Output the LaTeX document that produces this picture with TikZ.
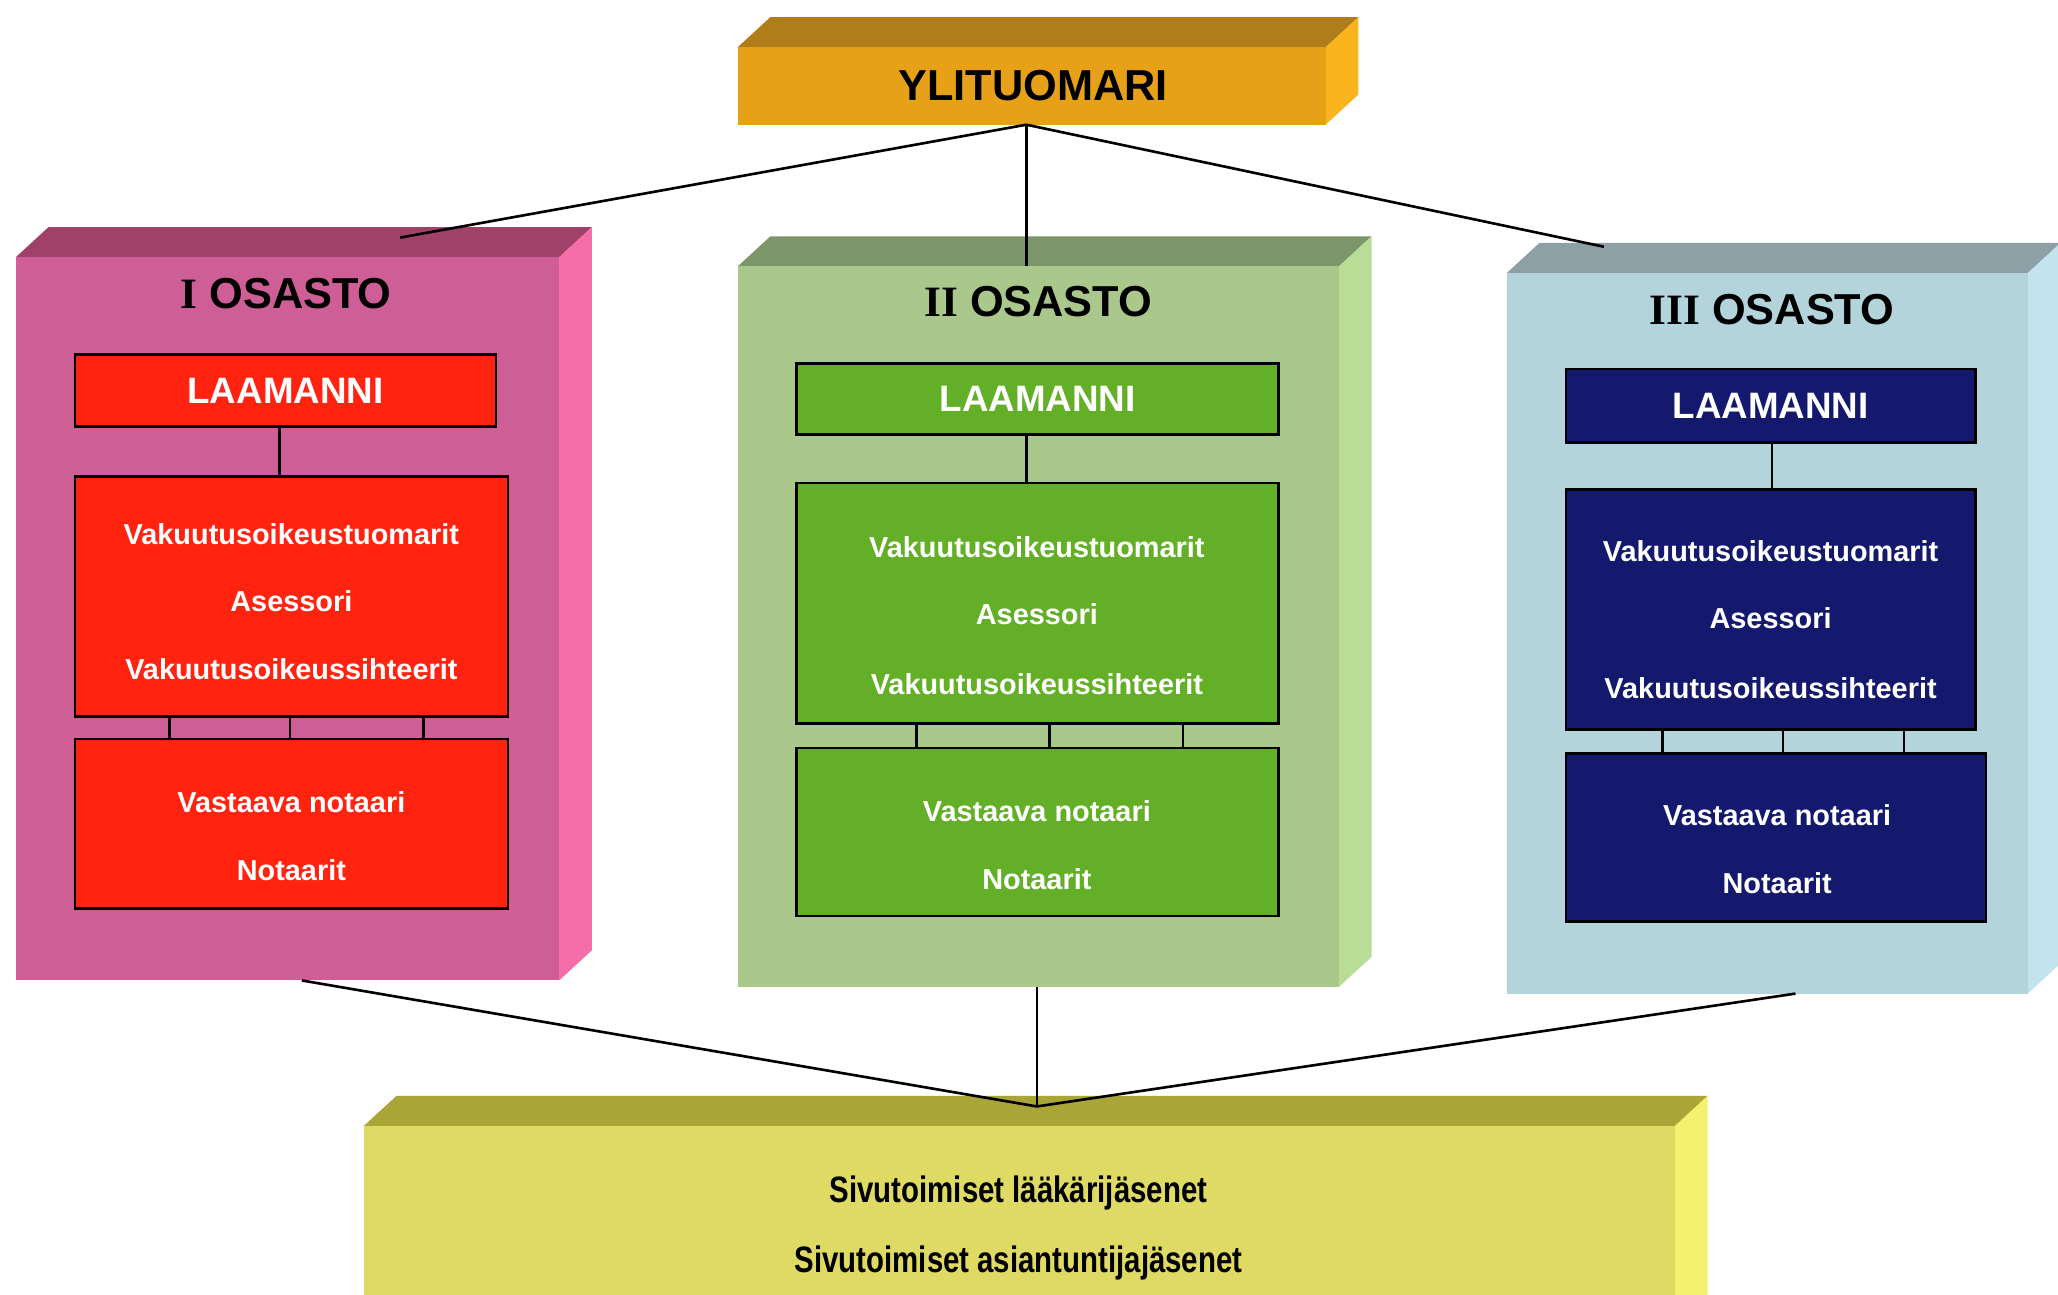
\documentclass[tikz,border=0pt]{standalone}
\usepackage{fontspec}
\setmainfont{Liberation Sans}
\newfontfamily\romanfont{Liberation Serif}
\newfontfamily\narrowfont{Liberation Sans}[FakeStretch=0.8]
\usetikzlibrary{fit,calc}
\definecolor{yFront}{HTML}{E6A118}
\definecolor{yTop}{HTML}{AF7D19}
\definecolor{ySide}{HTML}{FAB41E}
\definecolor{pFront}{HTML}{CD5F96}
\definecolor{pTop}{HTML}{A04169}
\definecolor{pSide}{HTML}{F56EAA}
\definecolor{gFront}{HTML}{AAC88C}
\definecolor{gTop}{HTML}{7D9669}
\definecolor{gSide}{HTML}{B9DC96}
\definecolor{bFront}{HTML}{B4D4DC}
\definecolor{bTop}{HTML}{8CA0A5}
\definecolor{bSide}{HTML}{C3E4EE}
\definecolor{kFront}{HTML}{DEDA64}
\definecolor{kTop}{HTML}{AAA537}
\definecolor{kSide}{HTML}{F5F06E}
\definecolor{redIn}{HTML}{FF2310}
\definecolor{greenIn}{HTML}{64AF28}
\definecolor{navyIn}{HTML}{14196E}
\newcommand\slabblock[8]{%
  \fill[#7] (#2,#3) -- ++(25,-23) -- (#4+25,#3-23) -- (#4,#3) -- cycle;
  \fill[#8] (#4,#3) -- (#4+25,#3-23) -- (#4+25,#5-23) -- (#4,#5) -- cycle;
  \node[fit={(#2,#3)(#4,#5)}, inner sep=0pt, fill=#6] (#1) {};
}
\begin{document}
\begin{tikzpicture}[x=0.5pt,y=-0.5pt,
  inbox/.style={draw=black, line width=1pt, inner sep=0pt},
  intext/.style={text=white, font=\bfseries\fontsize{11}{13}\selectfont},
  lamtext/.style={text=white, font=\bfseries\fontsize{14}{16}\selectfont},
  title/.style={text=black, font=\bfseries\fontsize{16.5}{19}\selectfont},
  bottext/.style={text=black, font=\narrowfont\bfseries\fontsize{14}{16}\selectfont},
  conn/.style={draw=black, line width=1pt},
  tick/.style={draw=black, line width=1pt}]
\useasboundingbox (0,0) rectangle (1568,986);
\clip (0,0) rectangle (1568,986);
\fill[white] (0,0) rectangle (1568,986);

% blocks
\slabblock{yl}{562}{36}{1010}{95}{yFront}{yTop}{ySide}
\slabblock{osI}{12}{196}{426}{747}{pFront}{pTop}{pSide}
\slabblock{osII}{562}{203}{1020}{752}{gFront}{gTop}{gSide}
\slabblock{osIII}{1148}{208}{1545}{757}{bFront}{bTop}{bSide}
\slabblock{siv}{277}{858}{1276}{1010}{kFront}{kTop}{kSide}

% titles
\node[title] (tY) at (787,65) {YLITUOMARI};
\node[title] (tI) at (218,224) {{\romanfont I} OSASTO};
\node[title] (tII) at (791,230) {{\romanfont II} OSASTO};
\node[title] (tIII) at (1350,236) {{\romanfont III} OSASTO};

% section I
\node[inbox, fill=redIn, fit={(57,270)(378,325)}] (l1) {};
\node[lamtext] at (l1.center) {LAAMANNI};
\node[inbox, fill=redIn, fit={(57,363)(387,546)}] (m1) {};
\node[intext] at (222,407) {Vakuutusoikeustuomarit};
\node[intext] at (222,458) {Asessori};
\node[intext] at (222,510) {Vakuutusoikeussihteerit};
\node[inbox, fill=redIn, fit={(57,563)(387,692)}] (b1) {};
\node[intext] at (222,611) {Vastaava notaari};
\node[intext] at (222,663) {Notaarit};
\draw[tick] (l1.south -| 213,0) -- (213,0 |- m1.north);
\foreach \f in {0.221,0.497,0.803}
  \draw[tick] ($(m1.south west)!\f!(m1.south east)$) coordinate (t) -- (t |- b1.north);

% section II
\node[inbox, fill=greenIn, fit={(607,277)(974,331)}] (l2) {};
\node[lamtext] at (l2.center) {LAAMANNI};
\node[inbox, fill=greenIn, fit={(607,368)(974,551)}] (m2) {};
\node[intext] at (790,417) {Vakuutusoikeustuomarit};
\node[intext] at (790,468) {Asessori};
\node[intext] at (790,521) {Vakuutusoikeussihteerit};
\node[inbox, fill=greenIn, fit={(607,570)(974,698)}] (b2) {};
\node[intext] at (790,618) {Vastaava notaari};
\node[intext] at (790,670) {Notaarit};
\draw[tick] (l2.south -| 782,0) -- (782,0 |- m2.north);
\foreach \f in {0.25,0.525,0.80}
  \draw[tick] ($(m2.south west)!\f!(m2.south east)$) coordinate (t) -- (t |- b2.north);

% section III
\node[inbox, fill=navyIn, fit={(1193,281)(1505,337)}] (l3) {};
\node[lamtext] at (l3.center) {LAAMANNI};
\node[inbox, fill=navyIn, fit={(1193,373)(1505,556)}] (m3) {};
\node[intext] at (1349,420) {Vakuutusoikeustuomarit};
\node[intext] at (1349,471) {Asessori};
\node[intext] at (1349,524) {Vakuutusoikeussihteerit};
\node[inbox, fill=navyIn, fit={(1193,574)(1513,702)}] (b3) {};
\node[intext] at (1354,621) {Vastaava notaari};
\node[intext] at (1354,673) {Notaarit};
\draw[tick] (l3.south -| 1350,0) -- (1350,0 |- m3.north);
\foreach \f in {0.237,0.53,0.824}
  \draw[tick] ($(m3.south west)!\f!(m3.south east)$) coordinate (t) -- (t |- b3.north);

% bottom texts
\node[bottext] at (776,909) {Sivutoimiset lääkärijäsenet};
\node[bottext] at (776,962) {Sivutoimiset asiantuntijajäsenet};

% connectors
\coordinate (ytop) at (782,95);
\coordinate (iTop) at (305,181);
\coordinate (iiiTop) at (1222,188);
\coordinate (iBot) at (230,747);
\coordinate (iiBot) at (790,752);
\coordinate (iiiBot) at (1368,757);
\coordinate (jn) at (790,843);
\draw[conn] (ytop) -- (iTop);
\draw[conn] (ytop) -- (ytop |- osII.north);
\draw[conn] (ytop) -- (iiiTop);
\draw[conn] (iBot) -- (jn);
\draw[conn] (iiBot) -- (jn);
\draw[conn] (iiiBot) -- (jn);
\end{tikzpicture}
\end{document}
